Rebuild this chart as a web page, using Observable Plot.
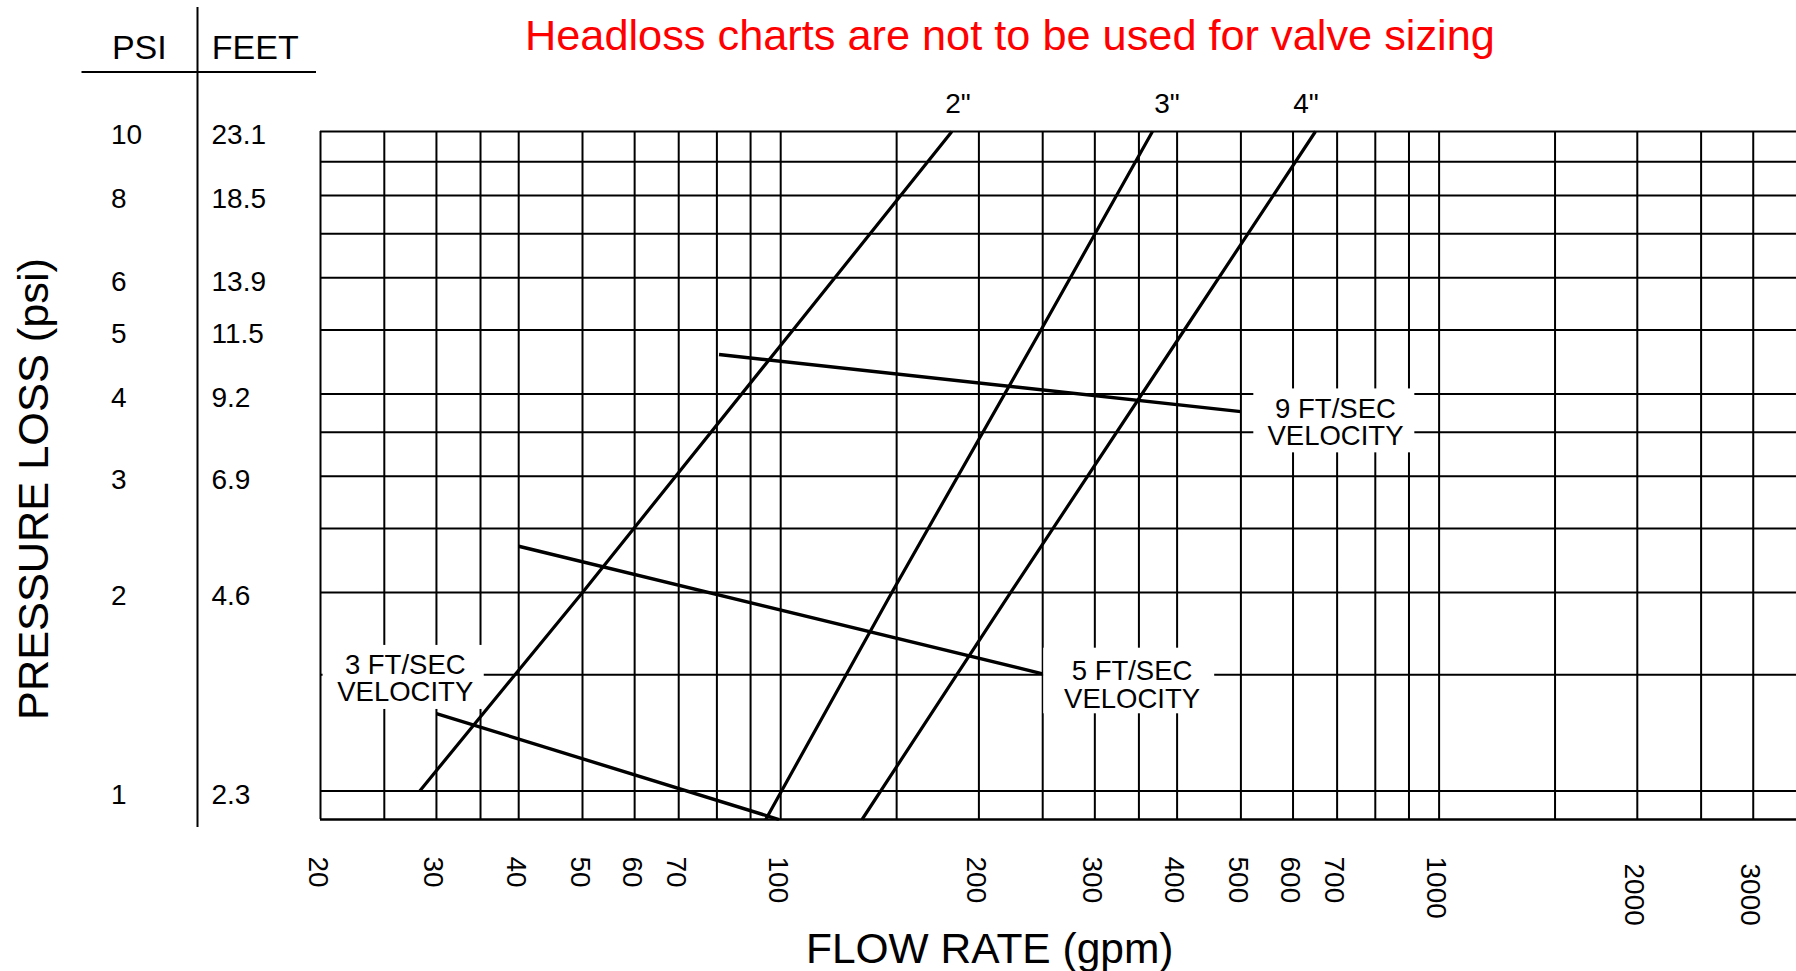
<!DOCTYPE html>
<html>
<head>
<meta charset="utf-8">
<script src="https://cdn.jsdelivr.net/npm/d3@7"></script>
<script src="https://cdn.jsdelivr.net/npm/@observablehq/plot@0.6"></script>
<style>
  html, body { margin: 0; padding: 0; background: #fff; overflow: hidden; }
  #chart svg { display: block; }
</style>
</head>
<body>
<div id="chart"></div>
<script>
// ---------- data ----------
const titleText = "Headloss charts are not to be used for valve sizing";
const xTitle = "FLOW RATE (gpm)";
const yTitle = "PRESSURE LOSS (psi)";

const xDomain = [20, 3490];
const yDomain = [0.905, 10];

// grid lines
const gpmGrid = [20, 25, 30, 35, 40, 50, 60, 70, 80, 90, 100, 150, 200, 250, 300, 350, 400, 500, 600, 700, 800, 900, 1000, 1500, 2000, 2500, 3000];
const psiGrid = [1, 1.5, 2, 2.5, 3, 3.5, 4, 5, 6, 7, 8, 9, 10];

// tick labels
const gpmTicks = [20, 30, 40, 50, 60, 70, 100, 200, 300, 400, 500, 600, 700, 1000, 2000, 3000];
const psiTicks = [10, 8, 6, 5, 4, 3, 2, 1];
const feetTicks = ["23.1", "18.5", "13.9", "11.5", "9.2", "6.9", "4.6", "2.3"];
const columnHeads = ["PSI", "FEET"];

// pipe curves
const pipeNames = ['2"', '3"', '4"'];
const pipe2Flow = [28.3, 50.0, 104.4, 182];
const pipe2Psi  = [1, 2, 5, 10];
const pipe3Flow = [94.9, 147.5, 248.5, 367];
const pipe3Psi  = [0.905, 2, 5, 10];
const pipe4Flow = [132.9, 223.5, 410.2, 649];
const pipe4Psi  = [0.905, 2, 5, 10];
const pipeLabelFlow = [185.9, 386.1, 627.9];

// velocity lines
const velocityNames = ["9 FT/SEC", "5 FT/SEC", "3 FT/SEC"];
const v9Flow = [80.6, 500];  const v9Psi = [4.59, 3.76];
const v5Flow = [40, 250];    const v5Psi = [2.35, 1.505];
const v3Flow = [30, 99.4];   const v3Psi = [1.31, 0.905];

// velocity label anchors (data units) and their blank boxes
const velLabelFlow = [696, 341.7, 26.9];
const velLabelPsi  = [3.62, 1.447, 1.48];
const velBoxFlow1 = [523.1, 250.9, 20.18];
const velBoxFlow2 = [918.6, 456.2, 35.46];
const velBoxPsi1  = [3.256, 1.309, 1.329];
const velBoxPsi2  = [4.07, 1.646, 1.662];

// ---------- tables built from the arrays ----------
const pipeRows = [
  [pipe2Flow, pipe2Psi], [pipe3Flow, pipe3Psi], [pipe4Flow, pipe4Psi]
].flatMap(([f, p], k) => f.map((v, i) => ({series: pipeNames[k], flow: v, psi: p[i]})));

const velRows = [
  [v9Flow, v9Psi], [v5Flow, v5Psi], [v3Flow, v3Psi]
].flatMap(([f, p], k) => f.map((v, i) => ({series: velocityNames[k], flow: v, psi: p[i]})));

const velLabels = velocityNames.map((n, i) => ({
  text: n + "\nVELOCITY", flow: velLabelFlow[i], psi: velLabelPsi[i]
}));
const velBoxes = velocityNames.map((n, i) => ({
  x1: velBoxFlow1[i], x2: velBoxFlow2[i], y1: velBoxPsi1[i], y2: velBoxPsi2[i]
}));
const pipeLabels = pipeNames.map((n, i) => ({text: n, flow: pipeLabelFlow[i]}));
const psiRows = psiTicks.map((p, i) => ({psi: p, psiText: String(p), feetText: feetTicks[i]}));

const FONT = "'Liberation Sans', Arial, Helvetica, sans-serif";

// decoration lines of the PSI | FEET table (drawn in the margin)
function tableRules(index, scales, values, dimensions) {
  const g = d3.create("svg:g").attr("stroke", "black").attr("stroke-width", 2);
  const divX = dimensions.marginLeft - 122.5;
  g.append("line")
    .attr("x1", divX).attr("x2", divX)
    .attr("y1", 7).attr("y2", dimensions.height - dimensions.marginBottom + 8);
  g.append("line")
    .attr("x1", 81.5).attr("x2", dimensions.marginLeft - 4)
    .attr("y1", 72).attr("y2", 72);
  return g.node();
}

const chart = Plot.plot({
  width: 1796,
  height: 971,
  marginLeft: 320,
  marginRight: 0,
  marginTop: 131,
  marginBottom: 152,
  x: {type: "log", domain: xDomain, axis: null},
  y: {type: "log", domain: yDomain, axis: null},
  style: {fontFamily: FONT, background: "white", color: "black", overflow: "visible"},
  marks: [
    // grid
    Plot.ruleX(gpmGrid, {stroke: "black", strokeWidth: 2, strokeOpacity: 1}),
    Plot.ruleY(psiGrid, {stroke: "black", strokeWidth: 2, strokeOpacity: 1}),
    Plot.ruleY([yDomain[0]], {stroke: "black", strokeWidth: 2.4, strokeOpacity: 1}),
    // blank boxes behind velocity labels
    Plot.rect(velBoxes, {x1: "x1", x2: "x2", y1: "y1", y2: "y2", fill: "white"}),
    // pipe curves
    Plot.line(pipeRows, {x: "flow", y: "psi", z: "series", stroke: "black", strokeWidth: 3.2, strokeLinecap: "butt"}),
    // velocity lines
    Plot.line(velRows, {x: "flow", y: "psi", z: "series", stroke: "black", strokeWidth: 3.4, strokeLinecap: "butt"}),
    // velocity labels
    Plot.text(velLabels, {x: "flow", y: "psi", text: "text", fontSize: 27.5, lineHeight: 1.0, textAnchor: "middle", lineAnchor: "middle", fill: "black"}),
    // pipe labels
    Plot.text(pipeLabels, {x: "flow", frameAnchor: "top", text: "text", fontSize: 28, textAnchor: "middle", lineAnchor: "middle", dy: -27.3, fill: "black"}),
    // x tick labels (rotated)
    Plot.text(gpmTicks.filter(d => d < 2000), {x: d => d, frameAnchor: "bottom", text: d => String(d), rotate: 90, textAnchor: "start", lineAnchor: "middle", fontSize: 28, dy: 37, dx: -3, fill: "black"}),
    Plot.text(gpmTicks.filter(d => d >= 2000), {x: d => d, frameAnchor: "bottom", text: d => String(d), rotate: 90, textAnchor: "start", lineAnchor: "middle", fontSize: 28, dy: 44, dx: -3, fill: "black"}),
    // PSI / FEET column labels
    Plot.text(psiRows, {y: "psi", frameAnchor: "left", text: "psiText", textAnchor: "start", lineAnchor: "middle", fontSize: 28, dx: -209.5, dy: 4, fill: "black"}),
    Plot.text(psiRows, {y: "psi", frameAnchor: "left", text: "feetText", textAnchor: "start", lineAnchor: "middle", fontSize: 28, dx: -109, dy: 4, fill: "black"}),
    // column headers
    Plot.text([columnHeads[0]], {frameAnchor: "top-left", text: d => d, textAnchor: "start", lineAnchor: "middle", fontSize: 34, dx: -208.6, dy: -82.9, fill: "black"}),
    Plot.text([columnHeads[1]], {frameAnchor: "top-left", text: d => d, textAnchor: "start", lineAnchor: "middle", fontSize: 34, dx: -108.7, dy: -82.9, fill: "black"}),
    tableRules,
    // titles
    Plot.text([titleText], {frameAnchor: "top", text: d => d, fontSize: 43.3, textAnchor: "middle", lineAnchor: "middle", dx: -48.6, dy: -95.8, fill: "#ff0000"}),
    Plot.text([xTitle], {frameAnchor: "bottom", text: d => d, fontSize: 42.5, textAnchor: "middle", lineAnchor: "middle", dx: -68.8, dy: 130, fill: "black"}),
    Plot.text([yTitle], {frameAnchor: "left", text: d => d, fontSize: 43.3, rotate: -90, textAnchor: "middle", lineAnchor: "middle", dx: -286, dy: 13.5, fill: "black"})
  ]
});

document.getElementById("chart").appendChild(chart);
</script>
</body>
</html>
